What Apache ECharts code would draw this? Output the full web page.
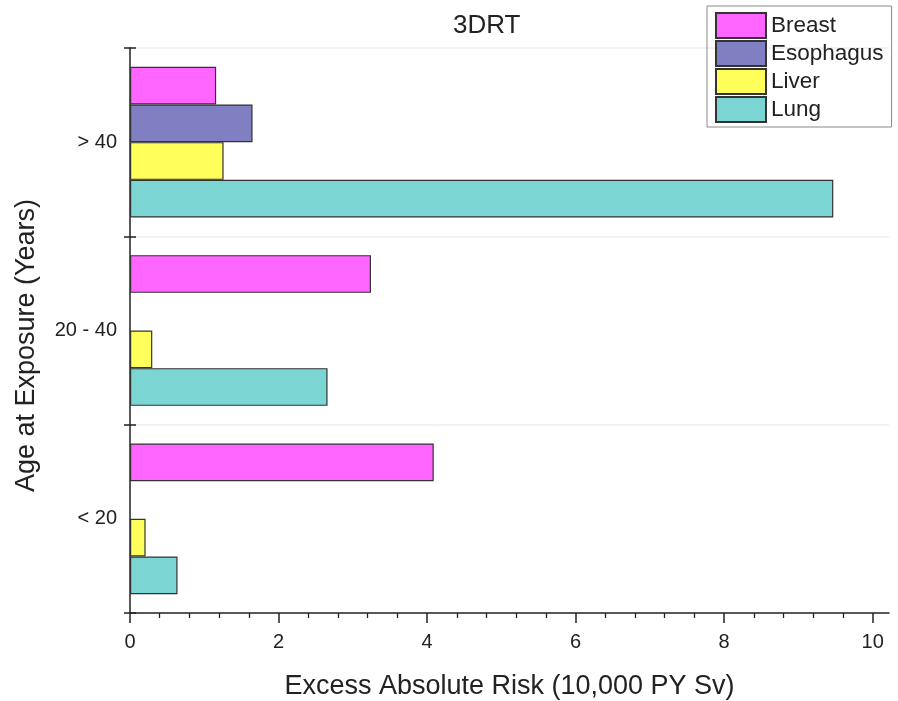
<!DOCTYPE html>
<html>
<head>
<meta charset="utf-8">
<script src="https://cdn.jsdelivr.net/npm/echarts@6/dist/echarts.min.js"></script>
<style>
  html, body { margin: 0; padding: 0; background: #fff; }
  #chart { width: 898px; height: 701px; }
</style>
</head>
<body>
<div id="chart"></div>
<script>
// Age groups, listed bottom to top on the vertical axis
const ageGroups = ['< 20', '20 - 40', '> 40'];

// Excess absolute risk per 10,000 PY Sv for each cancer site
const breast    = [4.09, 3.245, 1.16];
const esophagus = [null, null, 1.65];
const liver     = [0.21, 0.30, 1.26];
const lung      = [0.64, 2.66, 9.47];

// Major tick values on the risk axis
const xTicks = [0, 2, 4, 6, 8, 10];
const xMax = 10.22;

const FONT = 'Liberation Sans, Arial, sans-serif';
const TEXT = '#222';

// Minor ticks: five subdivisions between consecutive major ticks
const minorTicks = [];
for (let i = 0; i < xTicks.length - 1; i++) {
  const step = (xTicks[i + 1] - xTicks[i]) / 5;
  for (let k = 1; k < 5; k++) minorTicks.push(+(xTicks[i] + k * step).toFixed(4));
}

const seriesDefs = [
  { name: 'Breast',    data: breast,    color: '#FF66FF' },
  { name: 'Esophagus', data: esophagus, color: '#7F7FC2' },
  { name: 'Liver',     data: liver,     color: '#FFFF5C' },
  { name: 'Lung',      data: lung,      color: '#7BD5D2' }
];

const chart = echarts.init(document.getElementById('chart'), null, { renderer: 'canvas' });

chart.setOption({
  animation: false,
  backgroundColor: '#fff',
  textStyle: { fontFamily: FONT },
  title: {
    text: '3DRT',
    left: 448,
    top: 8,
    textStyle: { fontFamily: FONT, fontSize: 26, fontWeight: 'normal', color: TEXT }
  },
  legend: {
    data: seriesDefs.map(s => s.name),
    orient: 'vertical',
    left: 707,
    top: 6,
    padding: [6, 8, 4, 8],
    itemWidth: 50,
    itemHeight: 25,
    itemGap: 1,
    itemTextGap: 7,
    icon: 'rect',
    borderColor: '#8a8a8a',
    borderWidth: 1,
    textStyle: { fontFamily: FONT, fontSize: 22.5, color: TEXT }
  },
  grid: { left: 130, right: 9, top: 48, bottom: 88, containLabel: false, outerBoundsMode: 'none' },
  xAxis: [
    {
      type: 'value',
      min: 0,
      max: xMax,
      name: 'Excess Absolute Risk (10,000 PY Sv)',
      nameLocation: 'middle',
      nameGap: 60,
      nameTextStyle: { fontFamily: FONT, fontSize: 27, color: TEXT },
      axisLine: { show: true, lineStyle: { color: '#222', width: 1.5 } },
      axisTick: { show: true, customValues: xTicks, length: 10, lineStyle: { color: '#222', width: 1.5 } },
      axisLabel: { customValues: xTicks, fontFamily: FONT, fontSize: 20, color: TEXT, margin: 19 },
      splitLine: { show: false }
    },
    {
      type: 'value',
      min: 0,
      max: xMax,
      position: 'bottom',
      axisLine: { show: false },
      axisTick: { show: true, customValues: minorTicks, length: 5, lineStyle: { color: '#222', width: 1.3 } },
      axisLabel: { show: false },
      splitLine: { show: false }
    }
  ],
  yAxis: [
    {
      type: 'category',
      data: ageGroups,
      name: 'Age at Exposure (Years)',
      nameLocation: 'middle',
      nameGap: 90,
      nameTextStyle: { fontFamily: FONT, fontSize: 27, color: TEXT, padding: [0, 30, 0, 0] },
      axisLine: { show: true, lineStyle: { color: '#222', width: 1.5 } },
      axisTick: { show: true, length: 6, lineStyle: { color: '#222', width: 1.5 } },
      axisLabel: { fontFamily: FONT, fontSize: 20, color: TEXT, margin: 13 },
      splitLine: { show: false }
    },
    {
      type: 'category',
      data: ageGroups,
      position: 'left',
      axisLine: { show: false },
      axisTick: { show: true, inside: true, length: 6, lineStyle: { color: '#222', width: 1.5 } },
      axisLabel: { show: false },
      // faint separators between the age groups only
      splitLine: {
        show: true,
        interval: (index) => index === 1 || index === 2,
        lineStyle: { color: '#eeeeee', width: 1.5 }
      }
    }
  ],
  series: seriesDefs.map(s => ({
    name: s.name,
    type: 'bar',
    xAxisIndex: 0,
    yAxisIndex: 0,
    data: s.data,
    barCategoryGap: '20%',
    barGap: '0%',
    itemStyle: { color: s.color, borderColor: '#333', borderWidth: 1.2 }
  }))
});
</script>
</body>
</html>
